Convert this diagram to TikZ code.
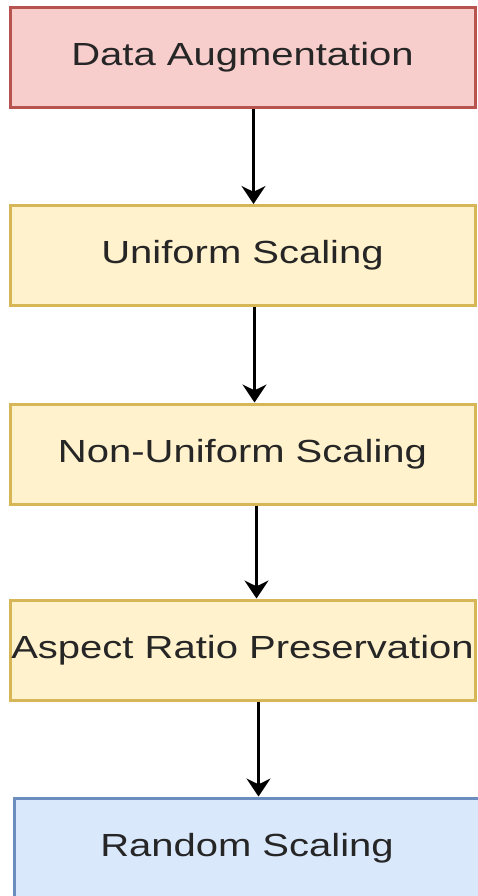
\documentclass[tikz,border=0pt]{standalone}
\usepackage{fontspec}
\setmainfont{Liberation Sans}[FakeStretch=1.25]
\usetikzlibrary{arrows.meta}

\definecolor{redfill}{HTML}{F8CECC}
\definecolor{redline}{HTML}{B85450}
\definecolor{yellowfill}{HTML}{FFF2CC}
\definecolor{yellowline}{HTML}{D6B656}
\definecolor{bluefill}{HTML}{DAE8FC}
\definecolor{blueline}{HTML}{6C8EBF}
\definecolor{textgray}{HTML}{262626}

\tikzstyle{stage}=[shape=rectangle,line width=3pt,inner sep=0pt,
    minimum width=465pt,minimum height=100pt,text=textgray,
    font=\fontsize{32}{36}\selectfont]
\tikzstyle{flow}=[-{Stealth[length=18pt,width=24pt]},line width=2.5pt,black]

\begin{document}
\begin{tikzpicture}[x=1pt,y=1pt]
        \useasboundingbox (0,0) rectangle (478,-896);
        % stages
        \node[stage,draw=redline,fill=redfill] (aug) at (242.5,-57.5) {Data Augmentation};
        \node[stage,draw=yellowline,fill=yellowfill] (uni) at (242.5,-255.5) {Uniform Scaling};
        \node[stage,draw=yellowline,fill=yellowfill] (nonuni) at (242.5,-454) {Non-Uniform Scaling};
        \node[stage,draw=yellowline,fill=yellowfill] (aspect) at (242.5,-650) {Aspect Ratio Preservation};
        \node[stage,draw=blueline,fill=bluefill,minimum width=466pt] (rand) at (247,-848) {Random Scaling};
        % arrows
        \draw[flow] ([xshift=11pt]aug.south) -- ([xshift=11pt]aug.south |- uni.north);
        \draw[flow] ([xshift=12pt]uni.south) -- ([xshift=12pt]uni.south |- nonuni.north);
        \draw[flow] ([xshift=14pt]nonuni.south) -- ([xshift=14pt]nonuni.south |- aspect.north);
        \draw[flow] ([xshift=16pt]aspect.south) -- ([xshift=16pt]aspect.south |- rand.north);
    \end{tikzpicture}
\end{document}
